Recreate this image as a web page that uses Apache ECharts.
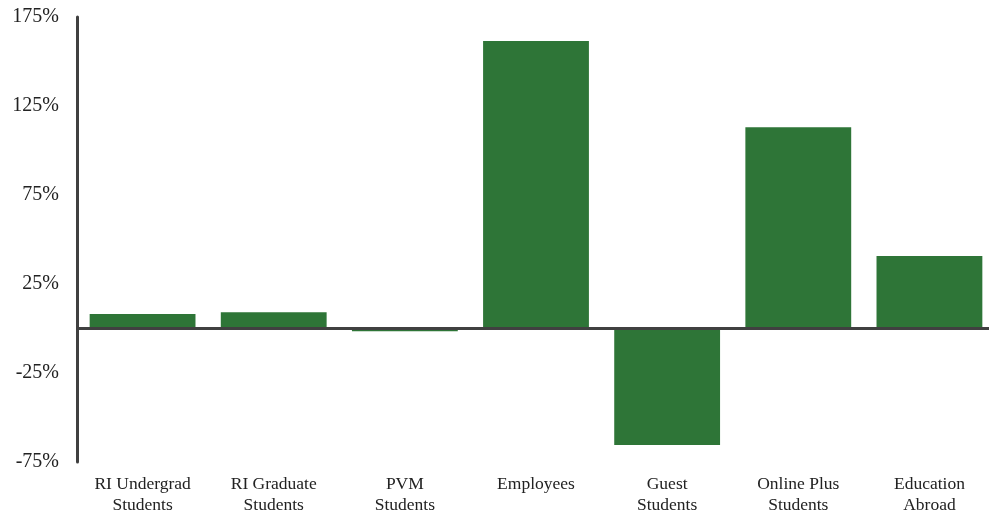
<!DOCTYPE html>
<html>
<head>
<meta charset="utf-8">
<script src="https://cdn.jsdelivr.net/npm/echarts@6/dist/echarts.min.js"></script>
<style>html,body{margin:0;padding:0;background:#fff}#c{width:989px;height:512px}</style>
</head>
<body>
<div id="c"></div>
<script>
const categories = ['RI Undergrad\nStudents', 'RI Graduate\nStudents', 'PVM\nStudents', 'Employees', 'Guest\nStudents', 'Online Plus\nStudents', 'Education\nAbroad'];
const values = [8.1, 9.1, -1.6, 161.5, -65.5, 113, 40.7];
const yTicks = [-75, -25, 25, 75, 125, 175];

const chart = echarts.init(document.getElementById('c'));
chart.setOption({
  animation: false,
  grid: { left: 77, right: -6, top: 17, bottom: 50, containLabel: false, outerBoundsMode: 'none' },
  xAxis: {
    type: 'category',
    data: categories,
    position: 'bottom',
    axisLine: { show: false, onZero: false },
    axisTick: { show: false },
    axisLabel: { fontFamily: 'Liberation Serif', fontSize: 17.5, color: '#222', lineHeight: 21, margin: 12, interval: 0 }
  },
  yAxis: {
    type: 'value',
    min: yTicks[0], max: yTicks[yTicks.length - 1], interval: 50,
    splitLine: { show: false },
    axisTick: { show: false },
    axisLine: { show: true, lineStyle: { color: '#404040', width: 3 } },
    axisLabel: { fontFamily: 'Liberation Serif', fontSize: 20, color: '#222', margin: 18, formatter: v => v + '%' }
  },
  series: [{
    type: 'bar',
    data: values,
    barCategoryGap: '19.3%',
    itemStyle: { color: '#2E7537' },
    markLine: {
      silent: true,
      symbol: 'none',
      label: { show: false },
      lineStyle: { color: '#404040', width: 3, type: 'solid' },
      data: [{ yAxis: 0 }]
    }
  }]
});
</script>
</body>
</html>
